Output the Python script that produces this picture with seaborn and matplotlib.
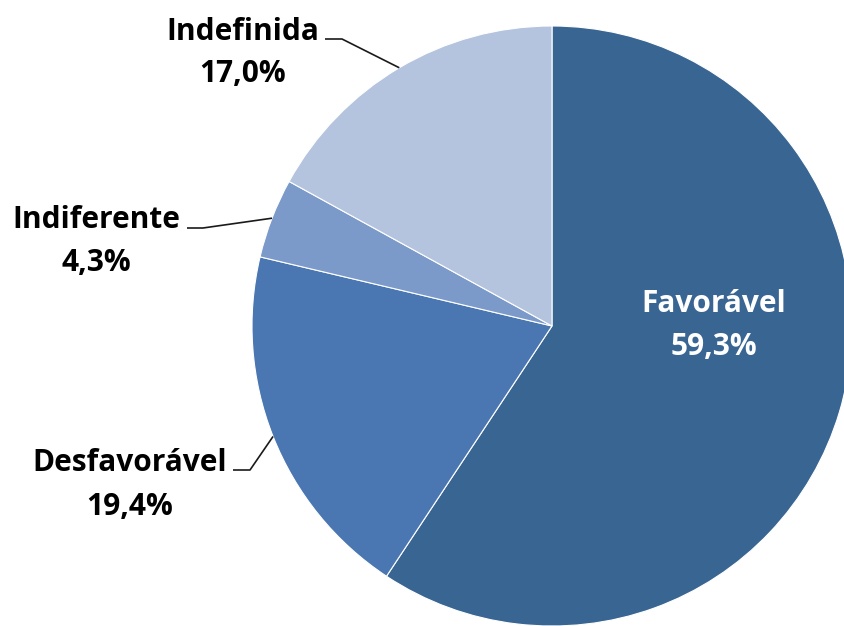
import matplotlib
matplotlib.use("Agg")
import matplotlib.pyplot as plt
import numpy as np
import seaborn as sns

categories = ["Favorável", "Desfavorável", "Indiferente", "Indefinida"]
shares = [59.3, 19.4, 4.3, 17.0]
pct_labels = ["59,3%", "19,4%", "4,3%", "17,0%"]
colors = ["#396593", "#4A77B2", "#7B9AC9", "#B4C3DE"]

sns.set_theme(style="white")
plt.rcParams["font.family"] = ["Open Sans", "DejaVu Sans"]

W, H = 844, 626
fig = plt.figure(figsize=(W / 100, H / 100), dpi=100)
ax = fig.add_axes([0, 0, 1, 1])

cx, cy, r = 552, 300, 300
wedges, _ = ax.pie(
    shares,
    colors=colors,
    startangle=90,
    counterclock=False,
    center=(cx, cy),
    radius=r,
    wedgeprops=dict(edgecolor="white", linewidth=0.8),
)
ax.set_xlim(0, W)
ax.set_ylim(0, H)
ax.set_aspect("equal")
ax.set_axis_off()

fs = 21.5
# inside label for the largest slice
ax.text(714, H - 312, categories[0], color="white", fontsize=fs,
        fontweight="bold", ha="center", va="baseline")
ax.text(714, H - 355, pct_labels[0], color="white", fontsize=fs,
        fontweight="bold", ha="center", va="baseline")

# outside labels: (text centre x, name baseline, pct baseline, leader start x, elbow x, leader y)
outside = {
    1: (130, 471, 515, 233, 250, 470),
    2: (96, 228, 271, 187, 203, 228),
    3: (243, 40, 82, 325, 342, 39),
}
for i, (tx, yb1, yb2, lx0, lx1, ly) in outside.items():
    w = wedges[i]
    mid = np.deg2rad((w.theta1 + w.theta2) / 2)
    ex, ey = cx + r * np.cos(mid), cy + r * np.sin(mid)
    ax.text(tx, H - yb1, categories[i], color="black", fontsize=fs,
            fontweight="bold", ha="center", va="baseline")
    ax.text(tx, H - yb2, pct_labels[i], color="black", fontsize=fs,
            fontweight="bold", ha="center", va="baseline")
    ax.plot([lx0, lx1, ex], [H - ly, H - ly, ey], color="#1a1a1a",
            lw=1.2, solid_capstyle="butt")

fig.savefig("out.png", dpi=100, facecolor="white")
